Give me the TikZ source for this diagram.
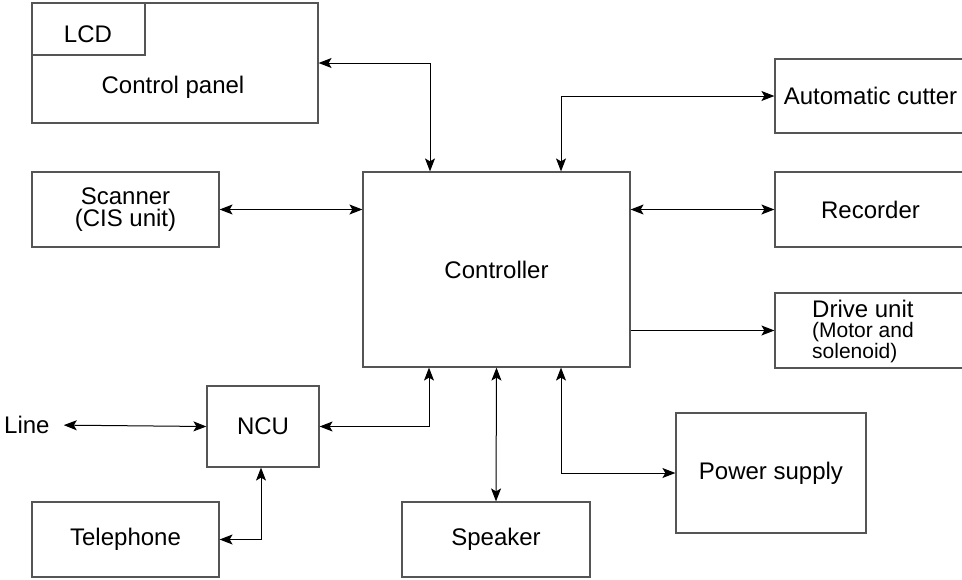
\documentclass[tikz,border=0pt]{standalone}
\usepackage{fontspec}
\setmainfont{Liberation Sans}
\usetikzlibrary{arrows.meta}
\definecolor{boxgray}{RGB}{85,85,85}
\tikzset{
  box/.style={draw=boxgray, line width=1.2pt, rectangle, inner sep=0pt, align=center,
    font=\fontsize{24}{22}\selectfont},
  txt/.style={inner sep=0pt, align=center, font=\fontsize{24}{22}\selectfont},
  tip/.tip={Stealth[length=13pt,width=10pt,inset=3pt]},
  conn/.style={line width=1pt, black, tip-tip},
  oneway/.style={line width=1pt, black, -tip}
}
\begin{document}
\begin{tikzpicture}[x=1pt,y=-1pt]
\useasboundingbox (0,0) rectangle (962,579);
\clip (0,0) rectangle (962,579);
% boxes
\node[box, minimum width=286, minimum height=120] (cp) at (175,63) {};
\node[box, minimum width=113, minimum height=52] (lcd) at (88.5,29) {};
\node[txt] (lcdtext) at (88,34) {LCD};
\node[txt] (cptext) at (173,87) {Control panel};
\node[box, minimum width=187, minimum height=75] (scanner) at (125.5,209.5) {Scanner\\(CIS unit)};
\node[box, minimum width=267, minimum height=195] (ctrl) at (496.5,269.5) {Controller};
\node[box, minimum width=191, minimum height=74] (cutter) at (870.5,96) {Automatic cutter};
\node[box, minimum width=191, minimum height=75] (recorder) at (870.5,209.5) {Recorder};
\node[box, minimum width=191, minimum height=75] (drive) at (870.5,330.5) {};
\node[txt, anchor=west, align=left, font=\fontsize{21}{20.5}\selectfont] (drivetext) at (812,331)
  {{\fontsize{24}{21}\selectfont Drive unit}\\(Motor and\\solenoid)};
\node[box, minimum width=112, minimum height=81] (ncu) at (263,426.5) {NCU};
\node[txt, anchor=west] (linetext) at (4,425) {Line};
\node[box, minimum width=187, minimum height=75] (tel) at (125.5,539.5) {Telephone};
\node[box, minimum width=188, minimum height=75] (speaker) at (496,539.5) {Speaker};
\node[box, minimum width=190, minimum height=120] (power) at (771,473) {Power supply};
% connectors
\draw[conn] (cp.east) -| ([xshift=-66.5]ctrl.north);
\draw[conn] ([xshift=64.5]ctrl.north) |- (cutter.west);
\draw[conn] (scanner.east) -- (scanner.east -| ctrl.west);
\draw[conn] (recorder.west -| ctrl.east) -- (recorder.west);
\draw[oneway] (drive.west -| ctrl.east) -- (drive.west);
\draw[conn, shorten <=14pt] (linetext.east) -- (ncu.west);
\draw[conn] (ncu.east) -| ([xshift=-67.5]ctrl.south);
\draw[conn] (tel.east) -| ([xshift=-2]ncu.south);
\draw[conn] (ctrl.south) -- (speaker.north);
\draw[conn] ([xshift=64.5]ctrl.south) |- (power.west);
\end{tikzpicture}
\end{document}
